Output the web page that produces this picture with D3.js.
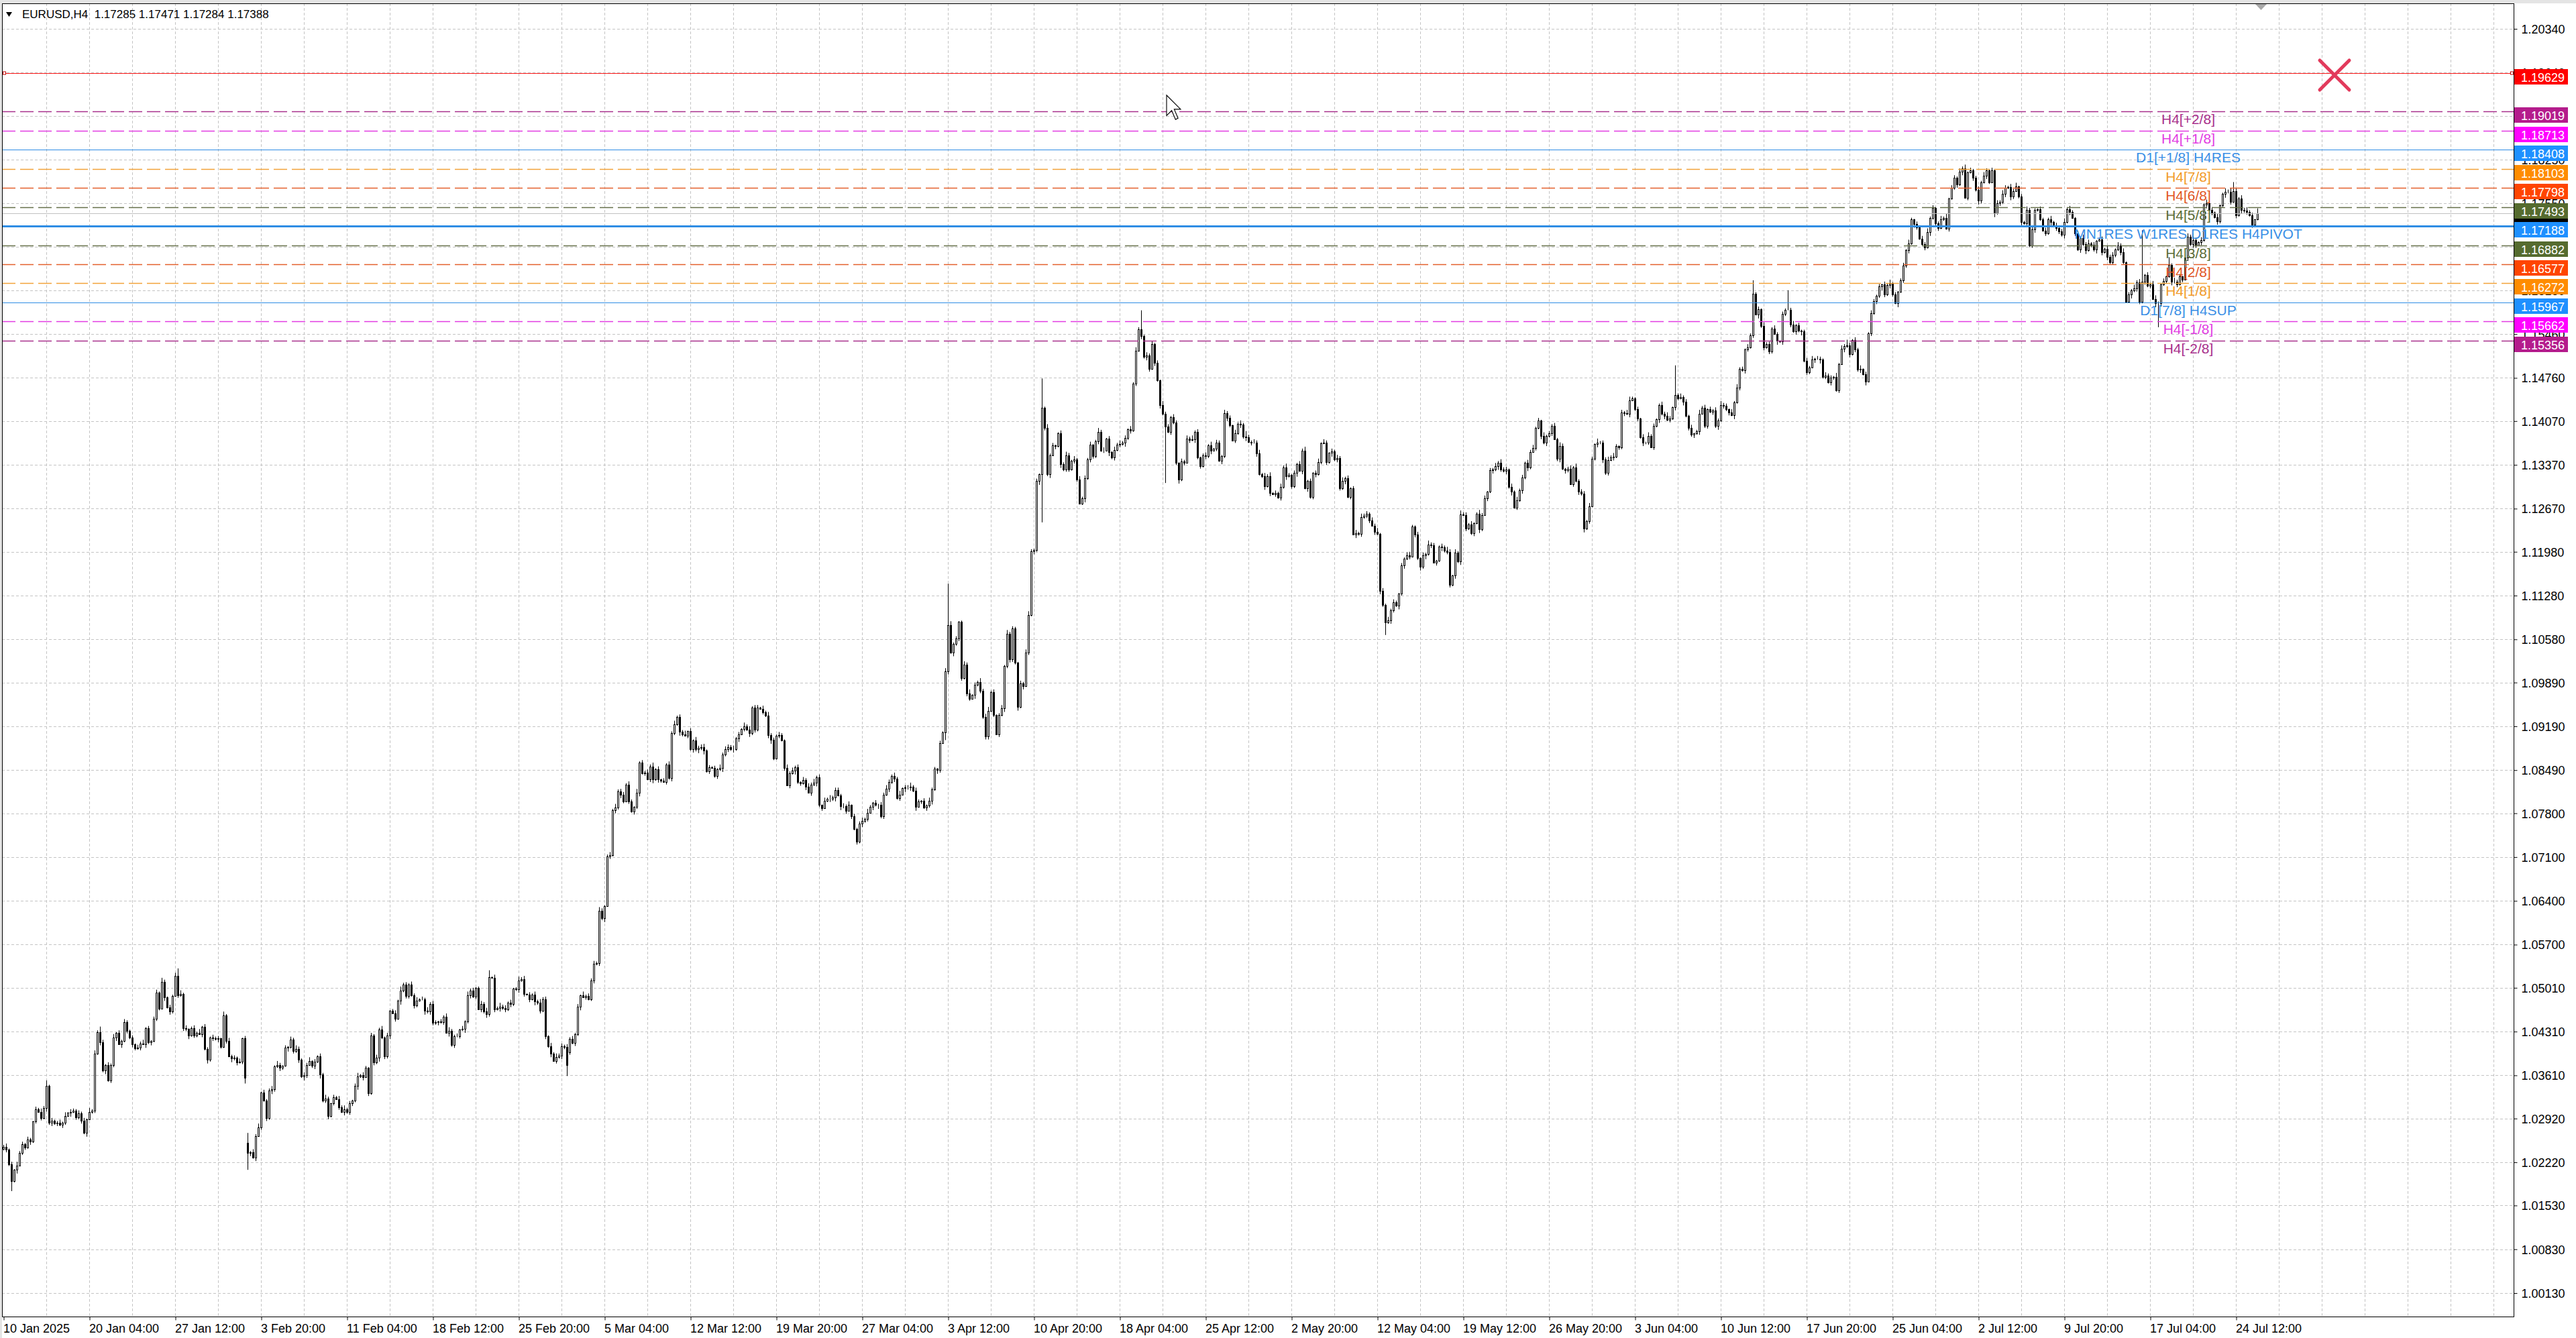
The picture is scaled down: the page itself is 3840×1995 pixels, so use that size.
<!DOCTYPE html>
<html>
<head>
<meta charset="utf-8">
<script src="https://cdn.jsdelivr.net/npm/d3@7"></script>
<style>
html, body { margin: 0; padding: 0; background: #fff; }
svg { display: block; font-family: "Liberation Sans", Arial, sans-serif; }
</style>
</head>
<body>
<svg id="chart" width="3840" height="1995"></svg>
<script>
// EURUSD H4 closes, in pips above 1.0000 (1 pip = 0.0001), one value per bar
const closesJan = [
  247,242,219,192,210,217,237,251,246,258,
  255,287,307,303,293,309,344,285,289,284,
  285,282,285,296,301,303,305,294,300,289,
  269,291,303,305,396,430,414,369,377,353,
  377,421,429,411,416,446,432,421,411,404,
  405,412,411,436,414,416,452,493,468,511,
  486,470,463,488,520,489,491,437,435,425,
  436,425,429,427,439,403,386,421,420,419,
  420,407,457,416,391,388,389,382,383,420,
  357];
const closesFeb = [
  237,238,230,264,278,334,321,293,337,339,
  375,378,373,376,405,406,418,400,403,386,
  359,361,378,384,376,383,391,362,321,324,
  296,316,326,323,310,303,307,303,316,321,
  344,359,361,358,373,332,425,382,389,434,
  421,391,425,464,460,452,480,497,506,488,
  506,489,473,480,483,483,464,463,475,445,
  446,447,446,455,429,432,410,424,424,434,
  435,447,489,497,487,501,467,475,463,459,
  518,517,467,469,471,469,466,477,475,500,
  499,513,515,491,490,483,490,479,477,464,
  483,424,408,396,384,390,393,408,406,378];
const closesMar = [
  419,413,427,471,489,486,488,483,513,539,
  541,624,612,632,711,713,785,789,815,810,
  799,826,799,783,790,813,861,844,845,834,
  855,834,850,834,832,830,858,836,908,922,
  934,910,906,904,911,882,896,882,885,886,
  880,847,854,852,840,850,852,874,882,886,
  882,883,900,906,915,919,914,908,949,914,
  949,947,942,936,905,897,868,904,905,896,
  852,825,844,848,854,830,828,833,822,813,
  826,829,838,793,788,800,803,803,805,817,
  809,791,791,784,793,775,755,735,764,768,
  771,781,790,797,793,793,775,810,819,830,
  840,835,804,810,820,821];
const closesApr = [
  821,823,816,790,799,800,789,792,800,818,
  851,849,892,909,1007,1081,1037,1051,1059,1086,
  996,1018,972,963,969,985,990,976,934,903,
  944,974,937,906,937,948,1015,1067,1026,1075,
  1021,950,988,983,1037,1097,1199,1201,1311,1322,
  1428,1396,1322,1352,1368,1367,1387,1338,1330,1352,
  1330,1344,1346,1313,1275,1283,1316,1346,1369,1351,
  1375,1390,1360,1360,1379,1357,1349,1361,1369,1370,
  1372,1380,1394,1392,1467,1519,1554,1543,1510,1512,
  1490,1530,1500,1472,1433,1419,1398,1390,1413,1405,
  1340,1313,1343,1340,1379,1377,1378,1390,1349,1335,
  1352,1351,1368,1360,1363,1373,1344,1351,1420,1412,
  1400,1376,1387,1403,1401,1382,1381,1374,1372,1373,
  1355,1322];
const closesMay = [
  1319,1303,1319,1292,1290,1292,1285,1302,1333,1319,
  1321,1303,1324,1338,1327,1360,1300,1311,1286,1324,
  1322,1341,1371,1373,1341,1356,1359,1346,1348,1300,
  1311,1316,1286,1300,1226,1228,1227,1253,1256,1259,
  1248,1240,1230,1227,1136,1113,1085,1088,1104,1117,
  1112,1131,1176,1187,1192,1190,1238,1226,1188,1174,
  1192,1194,1210,1208,1181,1184,1206,1205,1200,1198,
  1145,1160,1197,1183,1258,1257,1235,1242,1228,1244,
  1259,1234,1257,1283,1294,1328,1330,1335,1340,1330,
  1327,1330,1302,1294,1269,1280,1296,1317,1340,1333,
  1358,1364,1396,1408,1383,1373,1383,1387,1399,1378,
  1347,1367,1331,1328,1331,1306,1333,1311,1294,1291,
  1235,1247,1271,1347,1370,1373,1372,1346,1324,1345,
  1349,1350];
const closesJun = [
  1367,1365,1421,1420,1419,1440,1443,1426,1411,1381,
  1372,1372,1383,1365,1399,1410,1433,1419,1415,1409,
  1411,1429,1449,1443,1445,1438,1415,1396,1385,1387,
  1391,1419,1428,1399,1426,1422,1424,1399,1408,1433,
  1431,1426,1421,1416,1437,1460,1490,1488,1521,1525,
  1544,1611,1577,1586,1559,1525,1530,1518,1555,1546,
  1535,1534,1578,1585,1585,1561,1550,1560,1552,1550,
  1503,1485,1493,1505,1507,1507,1505,1478,1480,1469,
  1476,1478,1456,1498,1523,1527,1528,1514,1536,1521,
  1489,1490,1482,1470,1547,1579,1599,1607,1622,1625,
  1609,1624,1627,1609,1595,1614,1632,1655,1680,1691,
  1729,1722,1717,1698,1690,1685,1709,1732,1748,1723,
  1716,1730,1732,1714,1763,1780];
const closesJul = [
  1796,1785,1806,1811,1764,1805,1808,1796,1777,1759,
  1789,1799,1808,1789,1808,1739,1755,1757,1770,1780,
  1781,1766,1775,1782,1766,1725,1723,1745,1688,1713,
  1744,1746,1730,1711,1707,1729,1725,1720,1716,1710,
  1705,1725,1746,1741,1732,1707,1681,1700,1690,1680,
  1691,1689,1681,1695,1697,1677,1682,1670,1661,1673,
  1681,1688,1677,1661,1598,1609,1616,1619,1629,1598,
  1630,1641,1623,1626,1602,1595,1595,1625,1631,1638,
  1657,1630,1630,1626,1638,1633,1668,1702,1690,1696,
  1688,1693,1696,1753,1755,1745,1740,1733,1726,1752,
  1770,1773,1774,1757,1775,1736,1763,1745,1743,1741,
  1736,1721,1729,1739];

// wick lengths in pips beyond the body, one digit per bar
const wickUpJan = "3524163425 3142536241 3526143253 4162539425 3614253241 5362413526 3142536241 3526143253 4162534251 4";
const wickDnJan = "2435261342 5231426352 4253162435 2613425362 4351624253 2416352431 6253142536 2431526342 5324163524 3";
const wickUpFeb = "4253614235 2631425364 2536142536 3142536241 4625314253 6241352634 2536142635 3142563241 5263412536 4152634251 2635142536 3415263425";
const wickDnFeb = "3526142536 4253162435 2641352634 5231426354 3625142536 2436152634 4253126354 3524163524 2635241536 4152634253 3624152634 2536142635";
const wickUpMar = "3524162435 2641352634 4253162435 3625142536 2436152634 5231426354 3524163524 4152634253 2635241536 3624152634 4253614235 2631425364 253614";
const wickDnMar = "4253614235 2536142536 3142536241 4625314253 2631425364 6241352634 2536142635 3142563241 4152634251 5263412536 2635142536 3415263425 352416";
const wickUpApr = "4625314253 3142536241 2536142635 6241352634 3142563241 5263412536 4152634251 2635142536 3415263425 3524163425 3142536241 3526143253 4162539425 36";
const wickDnApr = "3526142536 2641352634 4253162435 5231426354 3625142536 2436152634 4253126354 3524163524 2635241536 4152634253 3624152634 2536142635 3142536241 52";
const wickUpMay = "2536142536 3142536241 4625314253 6241352634 2536142635 3142563241 5263412536 4152634251 2635142536 3415263425 3524162435 2641352634 4253162435 36";
const wickDnMay = "3625142536 2436152634 5231426354 3524163524 4152634253 2635241536 3624152634 4253614235 2631425364 2536142536 3142536241 4625314253 6241352634 25";
const wickUpJun = "3142563241 5263412536 4152634251 2635142536 3415263425 3524163425 3142536241 3526143253 4162539425 3614253241 5362413526 3142536241 352614";
const wickDnJun = "2435261342 5231426352 4253162435 2613425362 4351624253 2416352431 6253142536 2431526342 5324163524 3526142536 4253162435 2641352634 523142";
const wickUpJul = "4253614235 2631425364 2536142536 3142536241 4625314253 6241352634 2536142635 3142563241 5263412536 4152634251 2635142536 3418";
const wickDnJul = "3526142536 4253162435 2641352634 5231426354 3625142536 2436152634 4253126354 3524163524 2635241536 4152634253 3624152634 2531";

// long wicks: [bar, side, pips]
const longWicks = [
  [3,"l",16],[16,"h",9],[65,"h",12],[90,"l",9],[91,"h",16],[91,"l",27],[181,"h",11],[210,"l",18],
  [351,"l",12],[352,"h",66],[387,"h",47],[387,"l",77],[424,"h",30],[433,"l",90],[515,"l",20],
  [623,"h",47],[652,"h",21],[665,"h",31],[797,"h",82],[803,"l",38],[807,"h",12],[831,"h",14]
];
// bars opening away from the previous close (weekend gaps): [bar, open]
const gapOpens = [[91, 253], [211, 398]];
const firstOpen = 243;

const priceTicks = [1.20340, 1.19640, 1.18950, 1.18250, 1.17550, 1.16860, 1.16160, 1.15460,
  1.14760, 1.14070, 1.13370, 1.12670, 1.11980, 1.11280, 1.10580, 1.09890, 1.09190, 1.08490,
  1.07800, 1.07100, 1.06400, 1.05700, 1.05010, 1.04310, 1.03610, 1.02920, 1.02220, 1.01530,
  1.00830, 1.00130];
const timeLabels = ["10 Jan 2025", "20 Jan 04:00", "27 Jan 12:00", "3 Feb 20:00", "11 Feb 04:00",
  "18 Feb 12:00", "25 Feb 20:00", "5 Mar 04:00", "12 Mar 12:00", "19 Mar 20:00", "27 Mar 04:00",
  "3 Apr 12:00", "10 Apr 20:00", "18 Apr 04:00", "25 Apr 12:00", "2 May 20:00", "12 May 04:00",
  "19 May 12:00", "26 May 20:00", "3 Jun 04:00", "10 Jun 12:00", "17 Jun 20:00", "25 Jun 04:00",
  "2 Jul 12:00", "9 Jul 20:00", "17 Jul 04:00", "24 Jul 12:00"];

const levelPrices = [1.19629, 1.19019, 1.18713, 1.18408, 1.18103, 1.17798, 1.17493, 1.17188,
  1.16882, 1.16577, 1.16272, 1.15967, 1.15662, 1.15356];
const levelNames = ["", "H4[+2/8]", "H4[+1/8]", "D1[+1/8] H4RES", "H4[7/8]", "H4[6/8]", "H4[5/8]",
  "MN1RES W1RES D1RES H4PIVOT", "H4[3/8]", "H4[2/8]", "H4[1/8]", "D1[7/8] H4SUP", "H4[-1/8]", "H4[-2/8]"];
const bidPrice = 1.17388;
const header = "EURUSD,H4  1.17285 1.17471 1.17284 1.17388";

// ---------- build candles ----------
const closes = [].concat(closesJan, closesFeb, closesMar, closesApr, closesMay, closesJun, closesJul);
const digits = s => s.replace(/\s/g, "").split("").map(Number);
const ups = digits(wickUpJan + wickUpFeb + wickUpMar + wickUpApr + wickUpMay + wickUpJun + wickUpJul);
const dns = digits(wickDnJan + wickDnFeb + wickDnMar + wickDnApr + wickDnMay + wickDnJun + wickDnJul);
longWicks.forEach(([b, s, p]) => { if (s === "h") ups[b] = p; else dns[b] = p; });
const gaps = new Map(gapOpens);

const pip = v => 1 + v / 10000;
const candles = closes.map((c, i) => {
  const o = gaps.has(i) ? gaps.get(i) : (i === 0 ? firstOpen : closes[i - 1]);
  return {
    i,
    o: pip(o), c: pip(c),
    h: pip(Math.max(o, c) + (ups[i] || 0)),
    l: pip(Math.min(o, c) - (dns[i] || 0))
  };
});

// ---------- layout ----------
const W = 3840, H = 1995;
const plotL = 3, plotR = 3747, plotT = 5, plotB = 1963;
const svg = d3.select("#chart");

const x = d3.scaleLinear().domain([0, 1]).range([5.5, 9.5]);         // 4 px per bar
const y = d3.scaleLinear().domain([1.00130, 1.20340]).range([1928, 43]);
const sy = v => Math.round(y(v)) + 0.5;

svg.append("rect").attr("width", W).attr("height", H).attr("fill", "#fff");
svg.append("rect").attr("width", W).attr("height", plotT).attr("fill", "#e4e4e4");
svg.append("rect").attr("width", plotL).attr("height", H).attr("fill", "#e4e4e4");

// grid
const grid = svg.append("g").attr("stroke", "#c4c4c4").attr("stroke-dasharray", "4,3").attr("stroke-width", 1);
grid.selectAll("line.h").data(priceTicks).join("line").attr("class", "h")
  .attr("x1", plotL).attr("x2", plotR).attr("y1", d => sy(d)).attr("y2", d => sy(d));
grid.selectAll("line.v").data(d3.range(16, 935, 16)).join("line").attr("class", "v")
  .attr("x1", d => x(d)).attr("x2", d => x(d)).attr("y1", plotT).attr("y2", plotB);

// candles
const cg = svg.append("g");
cg.selectAll("line").data(candles).join("line")
  .attr("x1", d => x(d.i)).attr("x2", d => x(d.i))
  .attr("y1", d => y(d.h)).attr("y2", d => y(d.l))
  .attr("stroke", "#000").attr("stroke-width", 1);
cg.selectAll("rect").data(candles).join("rect")
  .attr("x", d => x(d.i) - 1)
  .attr("width", 2)
  .attr("y", d => Math.round(y(Math.max(d.o, d.c))) + 0.5)
  .attr("height", d => Math.max(0, Math.round(y(Math.min(d.o, d.c))) - Math.round(y(Math.max(d.o, d.c)))))
  .attr("fill", d => d.c >= d.o ? "#fff" : "#000")
  .attr("stroke", "#000").attr("stroke-width", 1);

// level styles
function levelStyle(name) {
  if (name === "") return { line: "#ff1a1a", text: "#ff1a1a", bg: "#ff0000", dash: null, w: 1 };
  if (/2\/8/.test(name) && /[+-]/.test(name)) return { line: "#a8308c", text: "#a8308c", bg: "#b41c8c", dash: "20,7", w: 1.5 };
  if (/[+-]1\/8/.test(name) && !/D1/.test(name)) return { line: "#e23ce2", text: "#e23ce2", bg: "#ff00ff", dash: "20,7", w: 1.5 };
  if (/PIVOT/.test(name)) return { line: "#2f8de4", text: "#3a8fe6", bg: "#1e90ff", dash: null, w: 3 };
  if (/D1/.test(name)) return { line: "#2f8de4", text: "#3a8fe6", bg: "#1e90ff", dash: null, w: 1.2 };
  if (/[71]\/8/.test(name)) return { line: "#f2a23a", text: "#f29b28", bg: "#ff8c00", dash: "20,7", w: 1.5 };
  if (/[62]\/8/.test(name)) return { line: "#e4602c", text: "#e2561f", bg: "#ff4500", dash: "20,7", w: 1.5 };
  return { line: "#66704a", text: "#5b6c36", bg: "#556b2f", dash: "20,7", w: 1.5 };
}
const levels = levelPrices.map((p, k) => ({ p, name: levelNames[k], s: levelStyle(levelNames[k]) }));

// bid line
svg.append("line").attr("x1", plotL).attr("x2", plotR).attr("y1", sy(bidPrice)).attr("y2", sy(bidPrice))
  .attr("stroke", "#c0c0c0").attr("stroke-width", 1);

// level lines
svg.append("g").selectAll("line").data(levels).join("line")
  .attr("x1", plotL).attr("x2", plotR)
  .attr("y1", d => sy(d.p)).attr("y2", d => sy(d.p))
  .attr("stroke", d => d.s.line).attr("stroke-width", d => d.s.w)
  .attr("stroke-dasharray", d => d.s.dash);

// level captions
svg.append("g").selectAll("text").data(levels.filter(d => d.name)).join("text")
  .attr("x", 3262).attr("y", d => y(d.p) + 19)
  .attr("text-anchor", "middle").attr("font-size", 21)
  .attr("fill", d => d.s.text).text(d => d.name);

// selection handles on the red line
svg.append("g").selectAll("rect").data([4, 3742]).join("rect")
  .attr("x", d => d + 0.5).attr("y", sy(levelPrices[0]) - 2.5).attr("width", 4).attr("height", 4)
  .attr("fill", "#fff").attr("stroke", "#c00000").attr("stroke-width", 1);

// red cross marker
svg.append("path")
  .attr("d", "M3458,90 L3502,134 M3502,90 L3458,134")
  .attr("stroke", "#e23a5c").attr("stroke-width", 5).attr("stroke-linecap", "round").attr("fill", "none");

// frame
svg.append("rect").attr("x", plotL + 0.5).attr("y", plotT + 0.5)
  .attr("width", plotR - plotL).attr("height", plotB - plotT)
  .attr("fill", "none").attr("stroke", "#000").attr("stroke-width", 1);

// price axis
const yAxis = svg.append("g").attr("transform", `translate(${plotR + 0.5},0)`)
  .call(d3.axisRight(y).tickValues(priceTicks).tickSize(5).tickPadding(6).tickFormat(d3.format(".5f")));
yAxis.select(".domain").remove();
yAxis.selectAll(".tick line").attr("stroke", "#000");
yAxis.selectAll(".tick text").attr("font-size", 18).attr("font-family", "Liberation Sans, Arial, sans-serif")
  .attr("fill", "#000").attr("dy", "0.36em");

// time axis
const timeBars = timeLabels.map((t, k) => k * 32);
const xAxis = svg.append("g").attr("transform", `translate(0,${plotB + 0.5})`)
  .call(d3.axisBottom(x).tickValues(timeBars).tickSize(5).tickFormat((d, k) => timeLabels[k]));
xAxis.select(".domain").remove();
xAxis.selectAll(".tick line").attr("stroke", "#000");
xAxis.selectAll(".tick text").attr("font-size", 18).attr("font-family", "Liberation Sans, Arial, sans-serif")
  .attr("fill", "#000").attr("text-anchor", "start").attr("x", -1).attr("y", 9).attr("dy", "0.8em");

// bid label (mostly hidden under level labels)
svg.append("rect").attr("x", plotR + 1).attr("y", y(bidPrice) - 6).attr("width", 80).attr("height", 23).attr("fill", "#000");

// level price labels
const tags = svg.append("g").selectAll("g").data(levels).join("g")
  .attr("transform", d => `translate(${plotR + 1},${Math.round(y(d.p))})`);
tags.append("rect").attr("x", 0).attr("y", -6).attr("width", 80).attr("height", 23).attr("fill", d => d.s.bg);
tags.append("text").attr("x", 10).attr("y", 13).attr("font-size", 18).attr("fill", "#fff")
  .text(d => d3.format(".5f")(d.p));

// header
svg.append("path").attr("d", "M9,18 L18,18 L13.5,25 Z").attr("fill", "#000");
svg.append("text").attr("x", 33).attr("y", 27).attr("font-size", 17).attr("fill", "#000")
  .attr("xml:space", "preserve").style("white-space", "pre").text(header);

// chart shift marker
svg.append("path").attr("d", "M3362,6 L3379,6 L3370.5,15 Z").attr("fill", "#a8a8a8");

// mouse pointer
svg.append("path")
  .attr("transform", "translate(1739,142) scale(1.9)")
  .attr("d", "M0,0 L0,16 L4,12 L7,19 L9,18 L6,11 L11,11 Z")
  .attr("fill", "#fff").attr("stroke", "#000").attr("stroke-width", 0.6);
</script>
</body>
</html>
